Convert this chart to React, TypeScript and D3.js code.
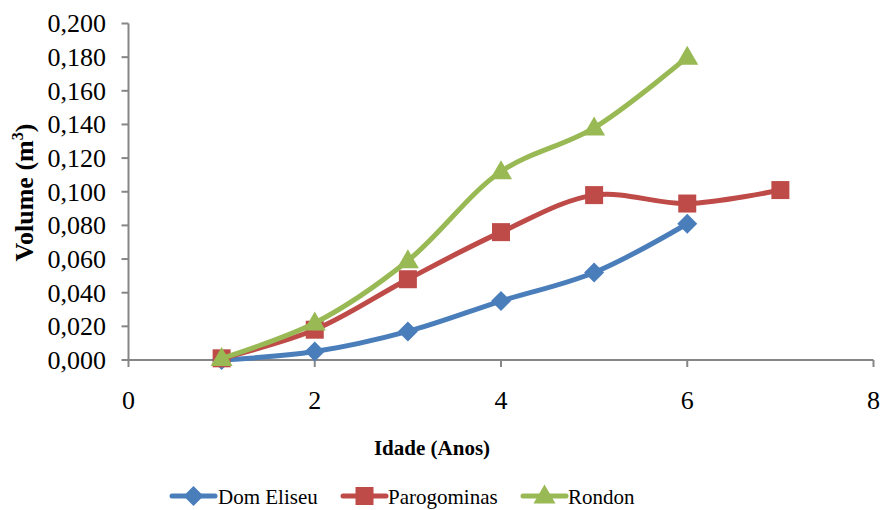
import React from "react";
import * as d3 from "d3";

const ages = [1, 2, 3, 4, 5, 6, 7];
const domEliseu = [0.0, 0.005, 0.017, 0.035, 0.052, 0.081];
const parogominas = [0.001, 0.018, 0.048, 0.076, 0.098, 0.093, 0.101];
const rondon = [0.001, 0.022, 0.059, 0.112, 0.138, 0.18];
const xTicks = [0, 2, 4, 6, 8];
const yTicks = [0, 0.02, 0.04, 0.06, 0.08, 0.1, 0.12, 0.14, 0.16, 0.18, 0.2];
const seriesNames = ["Dom Eliseu", "Parogominas", "Rondon"];
const seriesColors = ["#4A7EBB", "#BE4B48", "#98B954"];
const seriesMarkers = ["diamond", "square", "triangle"];

const W = 882;
const H = 510;
const FONT = '"Liberation Serif"';

function Marker({ type, x, y, color }: { type: string; x: number; y: number; color: string }) {
  if (type === "diamond") {
    const r = 10;
    return <path d={`M${x},${y - r}L${x + r},${y}L${x},${y + r}L${x - r},${y}Z`} fill={color} />;
  }
  if (type === "square") {
    const s = 18;
    return <rect x={x - s / 2} y={y - s / 2} width={s} height={s} fill={color} />;
  }
  const w = 22;
  const h = 19;
  return <path d={`M${x},${y - h * 0.6}L${x + w / 2},${y + h * 0.4}L${x - w / 2},${y + h * 0.4}Z`} fill={color} />;
}

export default function App() {
  const x = d3.scaleLinear().domain([0, 8]).range([128.5, 873.5]);
  const y = d3.scaleLinear().domain([0, 0.2]).range([360, 23.5]);
  const fmt = (v: number) => d3.format(".3f")(v).replace(".", ",");
  const data = [domEliseu, parogominas, rondon];
  const line = d3
    .line<number>()
    .x((_, i) => x(ages[i]))
    .y((d) => y(d))
    .curve(d3.curveCatmullRom.alpha(0.5));
  const axisColor = "#868686";
  const ts = { fontFamily: FONT };

  const legendItems = [
    { lx: 172, tx: 218 },
    { lx: 343, tx: 388 },
    { lx: 523, tx: 568 },
  ];

  return (
    <svg width={W} height={H} style={{ position: "absolute", left: 0, top: 0, background: "#fff" }}>
      {/* y axis */}
      <line x1={x(0)} x2={x(0)} y1={y(0.2)} y2={y(0)} stroke={axisColor} strokeWidth={2} />
      {yTicks.map((t) => (
        <g key={"y" + t}>
          <line x1={x(0) - 7} x2={x(0)} y1={y(t)} y2={y(t)} stroke={axisColor} strokeWidth={2} />
          <text x={106} y={y(t)} dy="0.34em" textAnchor="end" fontSize={26} fill="#000" style={ts}>
            {fmt(t)}
          </text>
        </g>
      ))}
      {/* x axis */}
      <line x1={x(0)} x2={x(8)} y1={y(0)} y2={y(0)} stroke={axisColor} strokeWidth={2} />
      {xTicks.map((t) => (
        <g key={"x" + t}>
          <line x1={x(t)} x2={x(t)} y1={y(0)} y2={y(0) + 7} stroke={axisColor} strokeWidth={2} />
          <text x={x(t)} y={409} textAnchor="middle" fontSize={26} fill="#000" style={ts}>
            {t}
          </text>
        </g>
      ))}
      {/* titles */}
      <text x={432} y={455} textAnchor="middle" fontSize={21} fontWeight="bold" fill="#000" style={ts}>
        Idade (Anos)
      </text>
      <text transform={`translate(33,192.5) rotate(-90)`} textAnchor="middle" fontSize={26} fontWeight="bold" fill="#000" style={ts}>
        Volume (m<tspan fontSize={16} dy={-10}>3</tspan>
        <tspan dy={10}>)</tspan>
      </text>
      {/* series */}
      {data.map((vals, si) => (
        <g key={seriesNames[si]}>
          <path d={line(vals) || ""} fill="none" stroke={seriesColors[si]} strokeWidth={5} strokeLinecap="round" />
          {vals.map((v, i) => (
            <Marker key={i} type={seriesMarkers[si]} x={x(ages[i])} y={y(v)} color={seriesColors[si]} />
          ))}
        </g>
      ))}
      {/* legend */}
      {legendItems.map((it, si) => (
        <g key={"leg" + si}>
          <line x1={it.lx} x2={it.lx + 43} y1={496} y2={496} stroke={seriesColors[si]} strokeWidth={5} strokeLinecap="round" />
          <Marker type={seriesMarkers[si]} x={it.lx + 21.5} y={496} color={seriesColors[si]} />
          <text x={it.tx} y={504} fontSize={21} fill="#000" style={ts}>
            {seriesNames[si]}
          </text>
        </g>
      ))}
    </svg>
  );
}
